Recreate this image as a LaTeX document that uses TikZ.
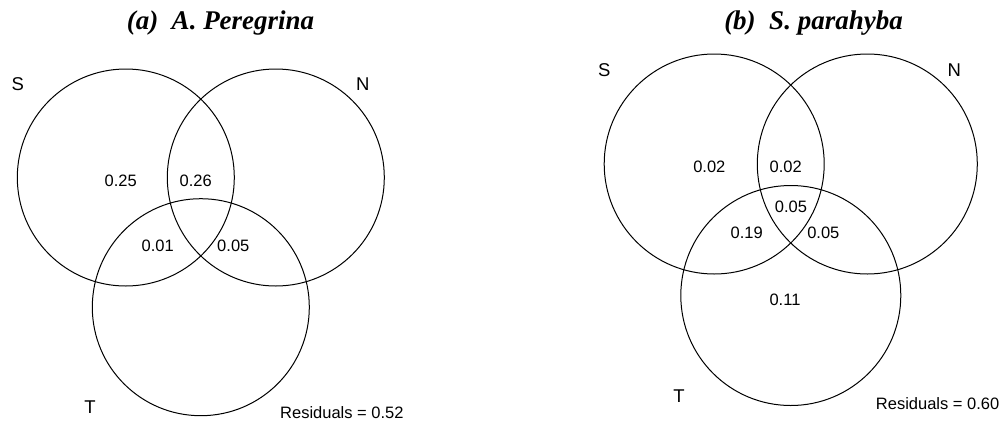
\documentclass[tikz,border=0pt]{standalone}
\usepackage{fontspec}
\setmainfont{Liberation Serif}
\setsansfont{Liberation Sans}
\begin{document}
\begin{tikzpicture}[x=1pt, y=-1pt, line join=round, line cap=round,
    ring/.style={line width=1pt},
    setlab/.style={font=\sffamily\fontsize{18.5}{20}\selectfont},
    frac/.style={font=\sffamily\fontsize{16.5}{18}\selectfont, inner sep=0pt},
    ttl/.style={font=\bfseries\itshape\fontsize{27}{29}\selectfont}]
  \useasboundingbox (0,0) rectangle (1001,421);

  % (a) A. Peregrina
  \coordinate (aS) at (125.8, 177.5);
  \coordinate (aN) at (275.8, 177.5);
  \coordinate (aT) at (200.8, 307.2);
  \foreach \c in {aS, aN, aT}
    \draw[ring] (\c) circle (108.5);

  \node[ttl] (atitle) at (220.5, 23) {(a)\ \ A. Peregrina};
  \node[setlab] (alS) at (17.7, 84.3) {S};
  \node[setlab] (alN) at (362.7, 84.3) {N};
  \node[setlab] (alT) at (90, 406.7) {T};
  \node[frac] (aS0) at (120.7, 181) {0.25};
  \node[frac] (aSN) at (195.7, 181) {0.26};
  \node[frac] (aST) at (157.7, 246) {0.01};
  \node[frac] (aNT) at (233.3, 246) {0.05};
  \node[frac, anchor=west] (ares) at (280, 413) {Residuals = 0.52};

  % (b) S. parahyba
  \coordinate (bS) at (714.2, 164);
  \coordinate (bN) at (867.3, 164);
  \coordinate (bT) at (790.8, 295.5);
  \foreach \c in {bS, bN, bT}
    \draw[ring] (\c) circle (110);

  \node[ttl] (btitle) at (813.5, 23) {(b)\ \ S. parahyba};
  \node[setlab] (blS) at (604.3, 70) {S};
  \node[setlab] (blN) at (954.3, 70) {N};
  \node[setlab] (blT) at (679, 396) {T};
  \node[frac] (bS0) at (709.3, 166.7) {0.02};
  \node[frac] (bSN) at (785.7, 166.7) {0.02};
  \node[frac] (bSNT) at (791, 207.3) {0.05};
  \node[frac] (bST) at (746.7, 233.3) {0.19};
  \node[frac] (bNT) at (823.3, 233.3) {0.05};
  \node[frac] (bT0) at (785, 300) {0.11};
  \node[frac, anchor=east] (bres) at (999.5, 403.3) {Residuals = 0.60};
\end{tikzpicture}
\end{document}
